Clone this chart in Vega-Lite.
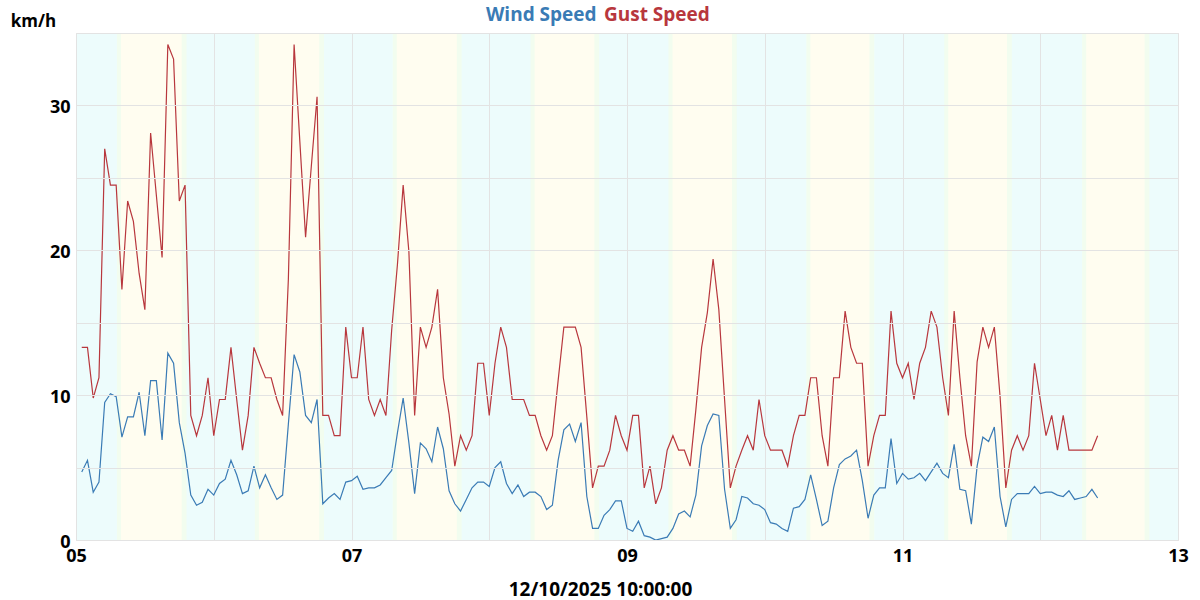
{
  "$schema": "https://vega.github.io/schema/vega-lite/v6.json",
  "autosize": {"type": "none"},
  "width": 1102,
  "height": 507,
  "padding": {"left": 76, "top": 33, "right": 22, "bottom": 60},
  "background": "#ffffff",
  "config": {
    "view": {"stroke": "#e3e3e3", "fill": "#edfcfc"},
    "font": "Open Sans",
    "axisX": {
      "titleFont": "Open Sans", "titleFontSize": 19, "titleFontWeight": "bold", "titleColor": "#000000",
      "titlePadding": 15, "titleX": 524, "titleAlign": "center",
      "labelFont": "Open Sans", "labelFontSize": 18, "labelFontWeight": "bold", "labelColor": "#000000",
      "labelPadding": 7, "labelFlush": false, "labelOverlap": false,
      "ticks": false, "domain": false,
      "grid": true, "gridColor": "#e3e3e3", "gridWidth": 1,
      "zindex": 1
    }
  },
  "datasets": {
    "sun": [
      {"tw1": "2025-10-05T07:08", "d1": "2025-10-05T07:50", "d2": "2025-10-05T18:25", "tw2": "2025-10-05T19:15"},
      {"tw1": "2025-10-06T07:10", "d1": "2025-10-06T07:52", "d2": "2025-10-06T18:23", "tw2": "2025-10-06T19:13"},
      {"tw1": "2025-10-07T07:11", "d1": "2025-10-07T07:53", "d2": "2025-10-07T18:21", "tw2": "2025-10-07T19:11"},
      {"tw1": "2025-10-08T07:12", "d1": "2025-10-08T07:54", "d2": "2025-10-08T18:19", "tw2": "2025-10-08T19:09"},
      {"tw1": "2025-10-09T07:14", "d1": "2025-10-09T07:56", "d2": "2025-10-09T18:17", "tw2": "2025-10-09T19:07"},
      {"tw1": "2025-10-10T07:15", "d1": "2025-10-10T07:57", "d2": "2025-10-10T18:15", "tw2": "2025-10-10T19:05"},
      {"tw1": "2025-10-11T07:16", "d1": "2025-10-11T07:58", "d2": "2025-10-11T18:13", "tw2": "2025-10-11T19:03"},
      {"tw1": "2025-10-12T07:18", "d1": "2025-10-12T08:00", "d2": "2025-10-12T18:11", "tw2": "2025-10-12T19:01"}
    ],
    "obs": [
      {"t": "2025-10-05T01:00", "wind": 4.7, "gust": 13.3},
      {"t": "2025-10-05T02:00", "wind": 5.5, "gust": 13.3},
      {"t": "2025-10-05T03:00", "wind": 3.3, "gust": 9.8},
      {"t": "2025-10-05T04:00", "wind": 4.0, "gust": 11.2},
      {"t": "2025-10-05T05:00", "wind": 9.5, "gust": 27.0},
      {"t": "2025-10-05T06:00", "wind": 10.1, "gust": 24.5},
      {"t": "2025-10-05T07:00", "wind": 9.9, "gust": 24.5},
      {"t": "2025-10-05T08:00", "wind": 7.1, "gust": 17.3},
      {"t": "2025-10-05T09:00", "wind": 8.5, "gust": 23.4},
      {"t": "2025-10-05T10:00", "wind": 8.5, "gust": 22.0},
      {"t": "2025-10-05T11:00", "wind": 10.2, "gust": 18.4},
      {"t": "2025-10-05T12:00", "wind": 7.2, "gust": 15.9},
      {"t": "2025-10-05T13:00", "wind": 11.0, "gust": 28.1},
      {"t": "2025-10-05T14:00", "wind": 11.0, "gust": 23.8},
      {"t": "2025-10-05T15:00", "wind": 6.9, "gust": 19.5},
      {"t": "2025-10-05T16:00", "wind": 12.9, "gust": 34.2},
      {"t": "2025-10-05T17:00", "wind": 12.2, "gust": 33.2},
      {"t": "2025-10-05T18:00", "wind": 8.1, "gust": 23.4},
      {"t": "2025-10-05T19:00", "wind": 6.0, "gust": 24.5},
      {"t": "2025-10-05T20:00", "wind": 3.1, "gust": 8.6},
      {"t": "2025-10-05T21:00", "wind": 2.4, "gust": 7.2},
      {"t": "2025-10-05T22:00", "wind": 2.6, "gust": 8.6},
      {"t": "2025-10-05T23:00", "wind": 3.5, "gust": 11.2},
      {"t": "2025-10-06T00:00", "wind": 3.1, "gust": 7.2},
      {"t": "2025-10-06T01:00", "wind": 3.9, "gust": 9.7},
      {"t": "2025-10-06T02:00", "wind": 4.2, "gust": 9.7},
      {"t": "2025-10-06T03:00", "wind": 5.5, "gust": 13.3},
      {"t": "2025-10-06T04:00", "wind": 4.5, "gust": 9.7},
      {"t": "2025-10-06T05:00", "wind": 3.2, "gust": 6.2},
      {"t": "2025-10-06T06:00", "wind": 3.4, "gust": 8.6},
      {"t": "2025-10-06T07:00", "wind": 5.1, "gust": 13.3},
      {"t": "2025-10-06T08:00", "wind": 3.6, "gust": 12.2},
      {"t": "2025-10-06T09:00", "wind": 4.5, "gust": 11.2},
      {"t": "2025-10-06T10:00", "wind": 3.6, "gust": 11.2},
      {"t": "2025-10-06T11:00", "wind": 2.8, "gust": 9.7},
      {"t": "2025-10-06T12:00", "wind": 3.1, "gust": 8.6},
      {"t": "2025-10-06T13:00", "wind": 8.0, "gust": 18.0},
      {"t": "2025-10-06T14:00", "wind": 12.8, "gust": 34.2},
      {"t": "2025-10-06T15:00", "wind": 11.6, "gust": 27.5},
      {"t": "2025-10-06T16:00", "wind": 8.6, "gust": 20.9},
      {"t": "2025-10-06T17:00", "wind": 8.1, "gust": 25.8},
      {"t": "2025-10-06T18:00", "wind": 9.7, "gust": 30.6},
      {"t": "2025-10-06T19:00", "wind": 2.5, "gust": 8.6},
      {"t": "2025-10-06T20:00", "wind": 2.9, "gust": 8.6},
      {"t": "2025-10-06T21:00", "wind": 3.2, "gust": 7.2},
      {"t": "2025-10-06T22:00", "wind": 2.8, "gust": 7.2},
      {"t": "2025-10-06T23:00", "wind": 4.0, "gust": 14.7},
      {"t": "2025-10-07T00:00", "wind": 4.1, "gust": 11.2},
      {"t": "2025-10-07T01:00", "wind": 4.4, "gust": 11.2},
      {"t": "2025-10-07T02:00", "wind": 3.5, "gust": 14.7},
      {"t": "2025-10-07T03:00", "wind": 3.6, "gust": 9.7},
      {"t": "2025-10-07T04:00", "wind": 3.6, "gust": 8.6},
      {"t": "2025-10-07T05:00", "wind": 3.8, "gust": 9.7},
      {"t": "2025-10-07T06:00", "wind": 4.3, "gust": 8.6},
      {"t": "2025-10-07T07:00", "wind": 4.8, "gust": 14.5},
      {"t": "2025-10-07T08:00", "wind": 7.4, "gust": 19.0},
      {"t": "2025-10-07T09:00", "wind": 9.8, "gust": 24.5},
      {"t": "2025-10-07T10:00", "wind": 6.7, "gust": 19.9},
      {"t": "2025-10-07T11:00", "wind": 3.2, "gust": 8.6},
      {"t": "2025-10-07T12:00", "wind": 6.7, "gust": 14.7},
      {"t": "2025-10-07T13:00", "wind": 6.3, "gust": 13.3},
      {"t": "2025-10-07T14:00", "wind": 5.4, "gust": 14.7},
      {"t": "2025-10-07T15:00", "wind": 7.8, "gust": 17.3},
      {"t": "2025-10-07T16:00", "wind": 6.3, "gust": 11.2},
      {"t": "2025-10-07T17:00", "wind": 3.4, "gust": 8.7},
      {"t": "2025-10-07T18:00", "wind": 2.5, "gust": 5.1},
      {"t": "2025-10-07T19:00", "wind": 2.0, "gust": 7.2},
      {"t": "2025-10-07T20:00", "wind": 2.8, "gust": 6.2},
      {"t": "2025-10-07T21:00", "wind": 3.6, "gust": 7.2},
      {"t": "2025-10-07T22:00", "wind": 4.0, "gust": 12.2},
      {"t": "2025-10-07T23:00", "wind": 4.0, "gust": 12.2},
      {"t": "2025-10-08T00:00", "wind": 3.7, "gust": 8.6},
      {"t": "2025-10-08T01:00", "wind": 5.0, "gust": 12.2},
      {"t": "2025-10-08T02:00", "wind": 5.4, "gust": 14.7},
      {"t": "2025-10-08T03:00", "wind": 3.9, "gust": 13.3},
      {"t": "2025-10-08T04:00", "wind": 3.2, "gust": 9.7},
      {"t": "2025-10-08T05:00", "wind": 3.8, "gust": 9.7},
      {"t": "2025-10-08T06:00", "wind": 3.0, "gust": 9.7},
      {"t": "2025-10-08T07:00", "wind": 3.3, "gust": 8.6},
      {"t": "2025-10-08T08:00", "wind": 3.3, "gust": 8.6},
      {"t": "2025-10-08T09:00", "wind": 3.0, "gust": 7.2},
      {"t": "2025-10-08T10:00", "wind": 2.1, "gust": 6.2},
      {"t": "2025-10-08T11:00", "wind": 2.4, "gust": 7.2},
      {"t": "2025-10-08T12:00", "wind": 5.5, "gust": 11.0},
      {"t": "2025-10-08T13:00", "wind": 7.6, "gust": 14.7},
      {"t": "2025-10-08T14:00", "wind": 8.0, "gust": 14.7},
      {"t": "2025-10-08T15:00", "wind": 6.8, "gust": 14.7},
      {"t": "2025-10-08T16:00", "wind": 8.1, "gust": 13.3},
      {"t": "2025-10-08T17:00", "wind": 3.0, "gust": 8.5},
      {"t": "2025-10-08T18:00", "wind": 0.8, "gust": 3.6},
      {"t": "2025-10-08T19:00", "wind": 0.8, "gust": 5.1},
      {"t": "2025-10-08T20:00", "wind": 1.7, "gust": 5.1},
      {"t": "2025-10-08T21:00", "wind": 2.1, "gust": 6.2},
      {"t": "2025-10-08T22:00", "wind": 2.7, "gust": 8.6},
      {"t": "2025-10-08T23:00", "wind": 2.7, "gust": 7.2},
      {"t": "2025-10-09T00:00", "wind": 0.8, "gust": 6.2},
      {"t": "2025-10-09T01:00", "wind": 0.6, "gust": 8.6},
      {"t": "2025-10-09T02:00", "wind": 1.3, "gust": 8.6},
      {"t": "2025-10-09T03:00", "wind": 0.3, "gust": 3.6},
      {"t": "2025-10-09T04:00", "wind": 0.2, "gust": 5.1},
      {"t": "2025-10-09T05:00", "wind": 0.0, "gust": 2.5},
      {"t": "2025-10-09T06:00", "wind": 0.1, "gust": 3.6},
      {"t": "2025-10-09T07:00", "wind": 0.2, "gust": 6.2},
      {"t": "2025-10-09T08:00", "wind": 0.8, "gust": 7.2},
      {"t": "2025-10-09T09:00", "wind": 1.8, "gust": 6.2},
      {"t": "2025-10-09T10:00", "wind": 2.0, "gust": 6.2},
      {"t": "2025-10-09T11:00", "wind": 1.6, "gust": 5.1},
      {"t": "2025-10-09T12:00", "wind": 3.1, "gust": 9.0},
      {"t": "2025-10-09T13:00", "wind": 6.5, "gust": 13.3},
      {"t": "2025-10-09T14:00", "wind": 7.9, "gust": 15.7},
      {"t": "2025-10-09T15:00", "wind": 8.7, "gust": 19.4},
      {"t": "2025-10-09T16:00", "wind": 8.6, "gust": 15.9},
      {"t": "2025-10-09T17:00", "wind": 3.5, "gust": 9.7},
      {"t": "2025-10-09T18:00", "wind": 0.8, "gust": 3.6},
      {"t": "2025-10-09T19:00", "wind": 1.4, "gust": 5.1},
      {"t": "2025-10-09T20:00", "wind": 3.0, "gust": 6.2},
      {"t": "2025-10-09T21:00", "wind": 2.9, "gust": 7.2},
      {"t": "2025-10-09T22:00", "wind": 2.5, "gust": 6.2},
      {"t": "2025-10-09T23:00", "wind": 2.4, "gust": 9.7},
      {"t": "2025-10-10T00:00", "wind": 2.1, "gust": 7.2},
      {"t": "2025-10-10T01:00", "wind": 1.2, "gust": 6.2},
      {"t": "2025-10-10T02:00", "wind": 1.1, "gust": 6.2},
      {"t": "2025-10-10T03:00", "wind": 0.8, "gust": 6.2},
      {"t": "2025-10-10T04:00", "wind": 0.6, "gust": 5.1},
      {"t": "2025-10-10T05:00", "wind": 2.2, "gust": 7.2},
      {"t": "2025-10-10T06:00", "wind": 2.3, "gust": 8.6},
      {"t": "2025-10-10T07:00", "wind": 2.8, "gust": 8.6},
      {"t": "2025-10-10T08:00", "wind": 4.5, "gust": 11.2},
      {"t": "2025-10-10T09:00", "wind": 2.8, "gust": 11.2},
      {"t": "2025-10-10T10:00", "wind": 1.0, "gust": 7.2},
      {"t": "2025-10-10T11:00", "wind": 1.3, "gust": 5.1},
      {"t": "2025-10-10T12:00", "wind": 3.6, "gust": 11.2},
      {"t": "2025-10-10T13:00", "wind": 5.2, "gust": 11.2},
      {"t": "2025-10-10T14:00", "wind": 5.6, "gust": 15.8},
      {"t": "2025-10-10T15:00", "wind": 5.8, "gust": 13.3},
      {"t": "2025-10-10T16:00", "wind": 6.2, "gust": 12.2},
      {"t": "2025-10-10T17:00", "wind": 4.1, "gust": 12.2},
      {"t": "2025-10-10T18:00", "wind": 1.5, "gust": 5.1},
      {"t": "2025-10-10T19:00", "wind": 3.1, "gust": 7.2},
      {"t": "2025-10-10T20:00", "wind": 3.6, "gust": 8.6},
      {"t": "2025-10-10T21:00", "wind": 3.6, "gust": 8.6},
      {"t": "2025-10-10T22:00", "wind": 7.0, "gust": 15.8},
      {"t": "2025-10-10T23:00", "wind": 3.9, "gust": 12.2},
      {"t": "2025-10-11T00:00", "wind": 4.6, "gust": 11.2},
      {"t": "2025-10-11T01:00", "wind": 4.2, "gust": 12.2},
      {"t": "2025-10-11T02:00", "wind": 4.3, "gust": 9.7},
      {"t": "2025-10-11T03:00", "wind": 4.6, "gust": 12.2},
      {"t": "2025-10-11T04:00", "wind": 4.1, "gust": 13.3},
      {"t": "2025-10-11T05:00", "wind": 4.7, "gust": 15.8},
      {"t": "2025-10-11T06:00", "wind": 5.3, "gust": 14.7},
      {"t": "2025-10-11T07:00", "wind": 4.6, "gust": 11.2},
      {"t": "2025-10-11T08:00", "wind": 4.3, "gust": 8.6},
      {"t": "2025-10-11T09:00", "wind": 6.6, "gust": 15.8},
      {"t": "2025-10-11T10:00", "wind": 3.5, "gust": 11.2},
      {"t": "2025-10-11T11:00", "wind": 3.4, "gust": 7.2},
      {"t": "2025-10-11T12:00", "wind": 1.1, "gust": 5.1},
      {"t": "2025-10-11T13:00", "wind": 5.1, "gust": 12.3},
      {"t": "2025-10-11T14:00", "wind": 7.1, "gust": 14.7},
      {"t": "2025-10-11T15:00", "wind": 6.8, "gust": 13.3},
      {"t": "2025-10-11T16:00", "wind": 7.8, "gust": 14.7},
      {"t": "2025-10-11T17:00", "wind": 3.0, "gust": 9.9},
      {"t": "2025-10-11T18:00", "wind": 0.9, "gust": 3.6},
      {"t": "2025-10-11T19:00", "wind": 2.8, "gust": 6.2},
      {"t": "2025-10-11T20:00", "wind": 3.2, "gust": 7.2},
      {"t": "2025-10-11T21:00", "wind": 3.2, "gust": 6.2},
      {"t": "2025-10-11T22:00", "wind": 3.2, "gust": 7.2},
      {"t": "2025-10-11T23:00", "wind": 3.7, "gust": 12.2},
      {"t": "2025-10-12T00:00", "wind": 3.2, "gust": 9.7},
      {"t": "2025-10-12T01:00", "wind": 3.3, "gust": 7.2},
      {"t": "2025-10-12T02:00", "wind": 3.3, "gust": 8.6},
      {"t": "2025-10-12T03:00", "wind": 3.1, "gust": 6.2},
      {"t": "2025-10-12T04:00", "wind": 3.0, "gust": 8.6},
      {"t": "2025-10-12T05:00", "wind": 3.4, "gust": 6.2},
      {"t": "2025-10-12T06:00", "wind": 2.8, "gust": 6.2},
      {"t": "2025-10-12T07:00", "wind": 2.9, "gust": 6.2},
      {"t": "2025-10-12T08:00", "wind": 3.0, "gust": 6.2},
      {"t": "2025-10-12T09:00", "wind": 3.5, "gust": 6.2},
      {"t": "2025-10-12T10:00", "wind": 2.9, "gust": 7.2}
    ]
  },
  "layer": [
    {
      "data": {"name": "sun"},
      "mark": {"type": "rect", "color": "#f2fdef"},
      "encoding": {
        "x": {"field": "tw1", "type": "temporal",
              "scale": {"domain": [{"year": 2025, "month": 10, "date": 5}, {"year": 2025, "month": 10, "date": 13}]},
              "axis": {
                "title": "12/10/2025 10:00:00",
                "values": [
                  {"year": 2025, "month": 10, "date": 5}, {"year": 2025, "month": 10, "date": 6},
                  {"year": 2025, "month": 10, "date": 7}, {"year": 2025, "month": 10, "date": 8},
                  {"year": 2025, "month": 10, "date": 9}, {"year": 2025, "month": 10, "date": 10},
                  {"year": 2025, "month": 10, "date": 11}, {"year": 2025, "month": 10, "date": 12},
                  {"year": 2025, "month": 10, "date": 13}
                ],
                "labelExpr": "date(datum.value) % 2 == 1 ? timeFormat(datum.value, '%d') : ''"
              }},
        "x2": {"field": "tw2"}
      }
    },
    {
      "data": {"name": "sun"},
      "mark": {"type": "rect", "color": "#fffdf0"},
      "encoding": {
        "x": {"field": "d1", "type": "temporal",
              "scale": {"domain": [{"year": 2025, "month": 10, "date": 5}, {"year": 2025, "month": 10, "date": 13}]},
              "axis": {
                "title": "12/10/2025 10:00:00",
                "values": [
                  {"year": 2025, "month": 10, "date": 5}, {"year": 2025, "month": 10, "date": 6},
                  {"year": 2025, "month": 10, "date": 7}, {"year": 2025, "month": 10, "date": 8},
                  {"year": 2025, "month": 10, "date": 9}, {"year": 2025, "month": 10, "date": 10},
                  {"year": 2025, "month": 10, "date": 11}, {"year": 2025, "month": 10, "date": 12},
                  {"year": 2025, "month": 10, "date": 13}
                ],
                "labelExpr": "date(datum.value) % 2 == 1 ? timeFormat(datum.value, '%d') : ''"
              }},
        "x2": {"field": "d2"}
      }
    },
    {
      "data": {"name": "obs"},
      "transform": [{"fold": ["wind", "gust"], "as": ["series", "speed"]}],
      "mark": {"type": "line", "strokeWidth": 1.2},
      "encoding": {
        "x": {
          "field": "t", "type": "temporal",
          "scale": {"domain": [{"year": 2025, "month": 10, "date": 5}, {"year": 2025, "month": 10, "date": 13}]},
          "axis": {
            "title": "12/10/2025 10:00:00",
            "values": [
              {"year": 2025, "month": 10, "date": 5}, {"year": 2025, "month": 10, "date": 6},
              {"year": 2025, "month": 10, "date": 7}, {"year": 2025, "month": 10, "date": 8},
              {"year": 2025, "month": 10, "date": 9}, {"year": 2025, "month": 10, "date": 10},
              {"year": 2025, "month": 10, "date": 11}, {"year": 2025, "month": 10, "date": 12},
              {"year": 2025, "month": 10, "date": 13}
            ],
            "labelExpr": "date(datum.value) % 2 == 1 ? timeFormat(datum.value, '%d') : ''"
          }
        },
        "y": {
          "field": "speed", "type": "quantitative",
          "scale": {"domain": [0, 35], "nice": false, "zero": true},
          "axis": {
            "title": "km/h", "titleAngle": 0, "titleX": -43, "titleY": -12,
            "titleAlign": "center", "titleBaseline": "middle",
            "titleFont": "Open Sans", "titleFontSize": 17, "titleFontWeight": "bold", "titleColor": "#000000",
            "labelFont": "Open Sans", "labelFontSize": 18, "labelFontWeight": "bold", "labelColor": "#000000",
            "labelPadding": 6, "labelOffset": 2, "ticks": false, "domain": false,
            "grid": true, "gridColor": "#e3e3e3", "gridWidth": 1, "zindex": 1,
            "values": [0, 5, 10, 15, 20, 25, 30, 35],
            "labelExpr": "datum.value % 10 == 0 ? datum.label : ''"
          }
        },
        "color": {
          "field": "series", "type": "nominal",
          "scale": {"domain": ["wind", "gust"], "range": ["#3a7bb5", "#b8373d"]},
          "legend": {
            "orient": "none", "legendX": 411, "legendY": -28, "direction": "horizontal",
            "title": null, "padding": 0,
            "symbolType": "circle", "symbolSize": 0, "symbolOpacity": 0, "symbolStrokeWidth": 0,
            "labelOffset": -20, "columnPadding": 7,
            "labelFont": "Open Sans", "labelFontSize": 19, "labelFontWeight": "bold",
            "labelExpr": "datum.value == 'wind' ? 'Wind Speed' : 'Gust Speed'",
            "encode": {"labels": {"update": {"fill": {"scale": "color", "field": "value"}}}}
          }
        }
      }
    }
  ]
}
